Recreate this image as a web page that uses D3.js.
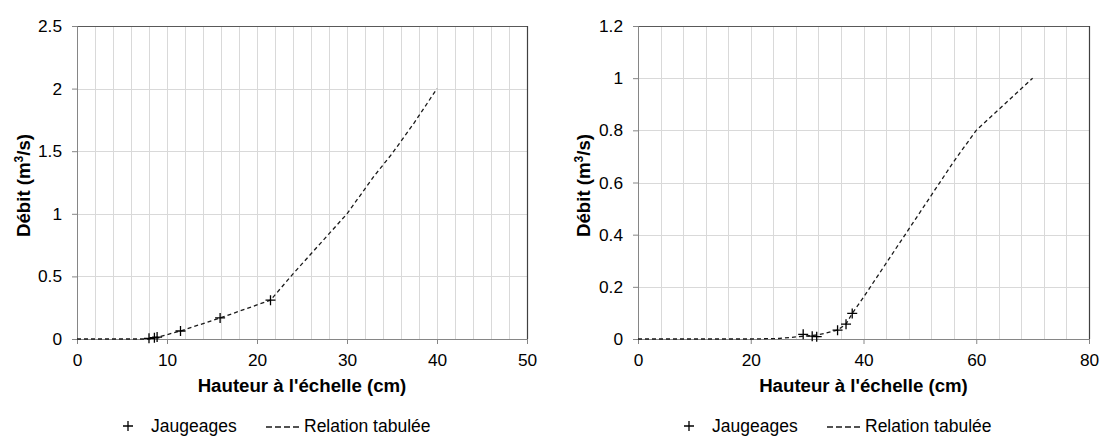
<!DOCTYPE html>
<html>
<head>
<meta charset="utf-8">
<script src="https://cdn.jsdelivr.net/npm/d3@7"></script>
<style>
  html, body { margin: 0; padding: 0; background: #fff; }
  svg { display: block; font-family: "Liberation Sans", Arial, sans-serif; }
</style>
</head>
<body>
<svg id="chart" width="1101" height="436"></svg>
<script>
// ---- Data: left chart ----
const hauteurJaugeagesA = [8.0, 8.6, 8.9, 11.5, 15.9, 21.5];
const debitJaugeagesA   = [0.005, 0.01, 0.015, 0.064, 0.168, 0.31];
const hauteurRelationA  = [0, 8, 9, 11.5, 15.9, 21.5, 24, 27, 30, 33, 35, 37.5, 40];
const debitRelationA    = [0, 0, 0.015, 0.064, 0.168, 0.31, 0.52, 0.76, 1.0, 1.3, 1.48, 1.73, 2.0];
const xTicksA = [0, 10, 20, 30, 40, 50];
const yTicksA = [0, 0.5, 1, 1.5, 2, 2.5];
const xGridStepA = 2;

// ---- Data: right chart ----
const hauteurJaugeagesB = [29.3, 30.9, 31.7, 35.4, 36.9, 38.0];
const debitJaugeagesB   = [0.018, 0.011, 0.009, 0.034, 0.057, 0.098];
const hauteurRelationB  = [0, 20, 25, 28, 30, 32, 35.4, 36.9, 38, 40, 44, 48, 52, 56, 60, 65, 70];
const debitRelationB    = [0, 0, 0.002, 0.008, 0.012, 0.016, 0.034, 0.057, 0.098, 0.16, 0.29, 0.42, 0.55, 0.68, 0.8, 0.9, 1.0];
const xTicksB = [0, 20, 40, 60, 80];
const yTicksB = [0, 0.2, 0.4, 0.6, 0.8, 1, 1.2];
const xGridStepB = 4;

const xTitle = "Hauteur à l'échelle (cm)";
const legendLabels = ["Jaugeages", "Relation tabulée"];

const svg = d3.select("#chart");

function drawPanel(cfg) {
  const { left, top, width, height, xMax, yMax, xTicks, yTicks, gridStep,
          hJ, dJ, hR, dR, yTitleX, fmt } = cfg;
  const x = d3.scaleLinear().domain([0, xMax]).range([left, left + width]);
  const y = d3.scaleLinear().domain([0, yMax]).range([top + height, top]);
  const g = svg.append("g");

  // vertical grid
  const gridX = d3.range(gridStep, xMax, gridStep);
  g.selectAll("line.gx").data(gridX).join("line")
    .attr("x1", d => Math.round(x(d)) + 0.5).attr("x2", d => Math.round(x(d)) + 0.5)
    .attr("y1", top).attr("y2", top + height)
    .attr("stroke", "#d9d9d9").attr("stroke-width", 1);
  // horizontal grid
  g.selectAll("line.gy").data(yTicks.filter(v => v > 0 && v < yMax)).join("line")
    .attr("x1", left).attr("x2", left + width)
    .attr("y1", d => Math.round(y(d)) + 0.5).attr("y2", d => Math.round(y(d)) + 0.5)
    .attr("stroke", "#d9d9d9").attr("stroke-width", 1);

  // border top/right
  g.append("line").attr("x1", left).attr("x2", left + width)
    .attr("y1", top + 0.5).attr("y2", top + 0.5).attr("stroke", "#595959");
  g.append("line").attr("x1", left + width + 0.5).attr("x2", left + width + 0.5)
    .attr("y1", top).attr("y2", top + height).attr("stroke", "#404040").attr("stroke-width", 1.2);

  // axes
  const xAxis = d3.axisBottom(x).tickValues(xTicks).tickSize(5).tickPadding(10)
    .tickFormat(d3.format("d"));
  const yAxis = d3.axisLeft(y).tickValues(yTicks).tickSize(5).tickPadding(10)
    .tickFormat(fmt);
  const gx = g.append("g").attr("transform", `translate(0,${top + height})`).call(xAxis);
  const gy = g.append("g").attr("transform", `translate(${left},0)`).call(yAxis);
  [gx, gy].forEach(a => {
    a.select(".domain").attr("stroke", "#868686");
    a.selectAll(".tick line").attr("stroke", "#868686");
    a.selectAll("text").attr("font-size", "17.3px").attr("fill", "#000")
      .attr("font-family", "Liberation Sans, Arial, sans-serif");
  });

  // relation line
  const rel = hR.map((h, i) => [h, dR[i]]);
  g.append("path").datum(rel)
    .attr("d", d3.line().x(d => x(d[0])).y(d => y(d[1])))
    .attr("fill", "none").attr("stroke", "#1a1a1a").attr("stroke-width", 1.3)
    .attr("stroke-dasharray", "4,3");

  // markers
  const pts = hJ.map((h, i) => [h, dJ[i]]);
  const s = 5;
  g.selectAll("path.m").data(pts).join("path")
    .attr("d", d => `M${x(d[0]) - s},${y(d[1])}H${x(d[0]) + s}M${x(d[0])},${y(d[1]) - s}V${y(d[1]) + s}`)
    .attr("stroke", "#000").attr("stroke-width", 1.3).attr("fill", "none");

  // titles
  g.append("text").attr("x", left + width / 2).attr("y", 392)
    .attr("text-anchor", "middle").attr("font-size", "18.67px").attr("font-weight", "bold")
    .text(xTitle);
  const yt = g.append("text")
    .attr("transform", `translate(${yTitleX},${top + height / 2 + 3}) rotate(-90)`)
    .attr("text-anchor", "middle").attr("font-size", "18.67px").attr("font-weight", "bold");
  yt.append("tspan").text("Débit (m");
  yt.append("tspan").attr("font-size", "12px").attr("dy", "-7").text("3");
  yt.append("tspan").attr("dy", "7").text("/s)");

  // legend
  const lx = left + 51, ly = 426;
  g.append("path")
    .attr("d", `M${lx - 5},${ly}H${lx + 5}M${lx},${ly - 5}V${ly + 5}`)
    .attr("stroke", "#000").attr("stroke-width", 1.3);
  g.append("text").attr("x", lx + 23).attr("y", 432).attr("font-size", "17.5px").text(legendLabels[0]);
  g.append("line").attr("x1", lx + 138).attr("x2", lx + 172).attr("y1", ly + 1).attr("y2", ly + 1)
    .attr("stroke", "#1a1a1a").attr("stroke-width", 1.3).attr("stroke-dasharray", "6,3");
  g.append("text").attr("x", lx + 176).attr("y", 432).attr("font-size", "17.5px").text(legendLabels[1]);
}

drawPanel({
  left: 77, top: 26, width: 450, height: 313, xMax: 50, yMax: 2.5,
  xTicks: xTicksA, yTicks: yTicksA, gridStep: xGridStepA,
  hJ: hauteurJaugeagesA, dJ: debitJaugeagesA, hR: hauteurRelationA, dR: debitRelationA,
  yTitleX: 30, fmt: d3.format("~g")
});
drawPanel({
  left: 638, top: 26, width: 451, height: 313, xMax: 80, yMax: 1.2,
  xTicks: xTicksB, yTicks: yTicksB, gridStep: xGridStepB,
  hJ: hauteurJaugeagesB, dJ: debitJaugeagesB, hR: hauteurRelationB, dR: debitRelationB,
  yTitleX: 590, fmt: d3.format("~g")
});
</script>
</body>
</html>
